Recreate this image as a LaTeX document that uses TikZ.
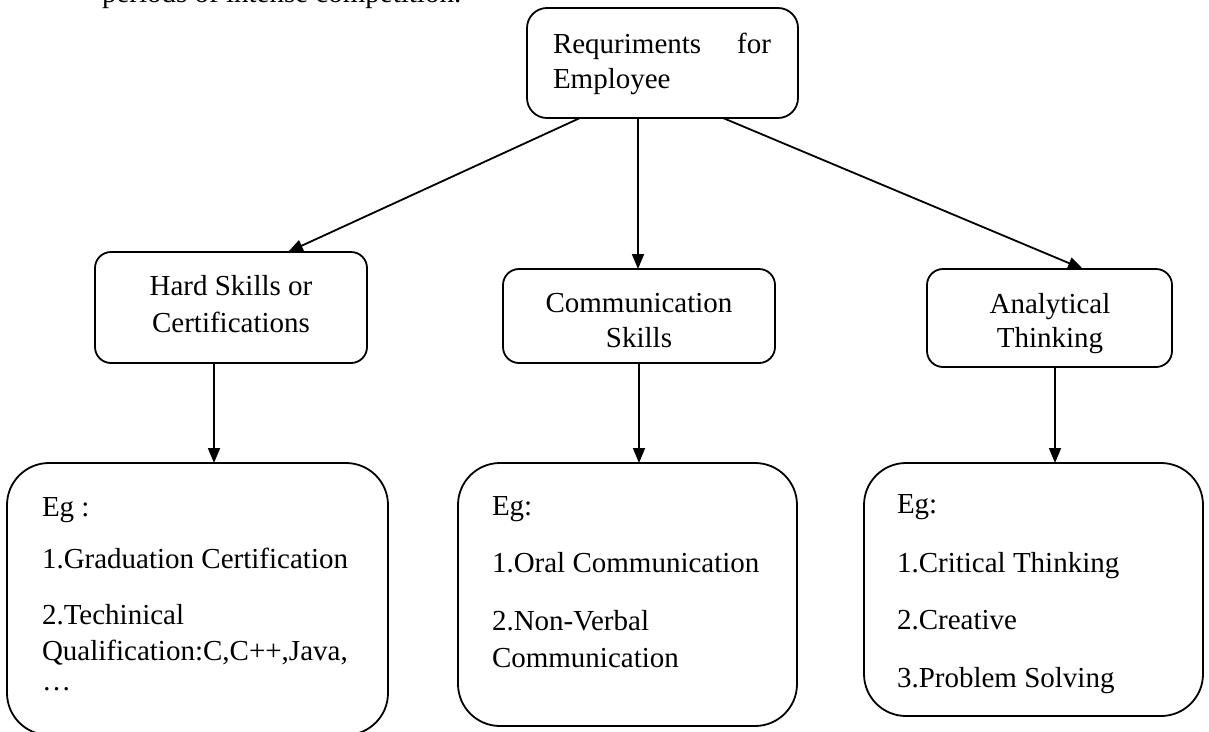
\documentclass[tikz,border=0pt]{standalone}
\usepackage{fontspec}
\setmainfont{Liberation Serif}
\usetikzlibrary{arrows.meta,calc}
\begin{document}
\begin{tikzpicture}[x=1pt,y=-1pt,
  every node/.style={inner sep=0pt,outer sep=0pt},
  box/.style={draw,line width=1.8pt,rounded corners=#1},
  txt/.style={font=\fontsize{29}{35}\selectfont},
  conn/.style={line width=1.8pt,-{Triangle[length=15pt,width=12pt]}}]
\useasboundingbox (0,0) rectangle (1209,731);
\clip (0,0) rectangle (1209,731);
% stray text at top edge
\node[txt,anchor=base west] (prev) at (102,2) {periods of intense competition.};
% boxes
\node[box=20pt,minimum width=271pt,minimum height=110pt] (top) at (662.5,63) {};
\node[box=16pt,minimum width=272pt,minimum height=111pt] (hs) at (231,307.5) {};
\node[box=16pt,minimum width=272pt,minimum height=94pt] (cs) at (639,316) {};
\node[box=16pt,minimum width=245pt,minimum height=98pt] (at) at (1049.5,318) {};
\node[box=42pt,minimum width=381pt,minimum height=272pt] (ex1) at (197.5,599) {};
\node[box=42pt,minimum width=339pt,minimum height=263pt] (ex2) at (627.5,594.5) {};
\node[box=42pt,minimum width=339pt,minimum height=253pt] (ex3) at (1033.5,589.5) {};
% texts
\node[txt,anchor=base west] (t1a) at (553,53) {Requriments};
\node[txt,anchor=base east] (t1b) at (771,53) {for};
\node[txt,anchor=base west] (t1c) at (553,88) {Employee};
\node[txt,anchor=base] (h1) at (231,295) {Hard Skills or};
\node[txt,anchor=base] (h2) at (231,332) {Certifications};
\node[txt,anchor=base] (c1) at (639,312) {Communication};
\node[txt,anchor=base] (c2) at (639,347) {Skills};
\node[txt,anchor=base] (a1) at (1050,313) {Analytical};
\node[txt,anchor=base] (a2) at (1050,347) {Thinking};
\node[txt,anchor=base west] (e1a) at (42,516) {Eg :};
\node[txt,anchor=base west] (e1b) at (42,568) {1.Graduation Certification};
\node[txt,anchor=base west] (e1c) at (42,624) {2.Techinical};
\node[txt,anchor=base west] (e1d) at (42,660) {Qualification:C,C++,Java,};
\node[txt,anchor=base west] (e1e) at (42,690) {…};
\node[txt,anchor=base west] (e2a) at (492,515) {Eg:};
\node[txt,anchor=base west] (e2b) at (492,572) {1.Oral Communication};
\node[txt,anchor=base west] (e2c) at (492,630) {2.Non-Verbal};
\node[txt,anchor=base west] (e2d) at (492,667) {Communication};
\node[txt,anchor=base west] (e3a) at (897,513) {Eg:};
\node[txt,anchor=base west] (e3b) at (897,572) {1.Critical Thinking};
\node[txt,anchor=base west] (e3c) at (897,629) {2.Creative};
\node[txt,anchor=base west] (e3d) at (897,687) {3.Problem Solving};
% connectors
\draw[conn] ([xshift=-82.5pt]top.south) -- ([xshift=57pt]hs.north);
\draw[conn] ([xshift=-24.5pt]top.south) -- ([xshift=-24.5pt]top.south |- cs.north);
\draw[conn] ([xshift=60.5pt]top.south) -- ([xshift=33.5pt]at.north);
\draw[conn] ([xshift=-17pt]hs.south) -- ([xshift=-17pt]hs.south |- ex1.north);
\draw[conn] (cs.south) -- (cs.south |- ex2.north);
\draw[conn] ([xshift=5.5pt]at.south) -- ([xshift=5.5pt]at.south |- ex3.north);
\end{tikzpicture}
\end{document}
